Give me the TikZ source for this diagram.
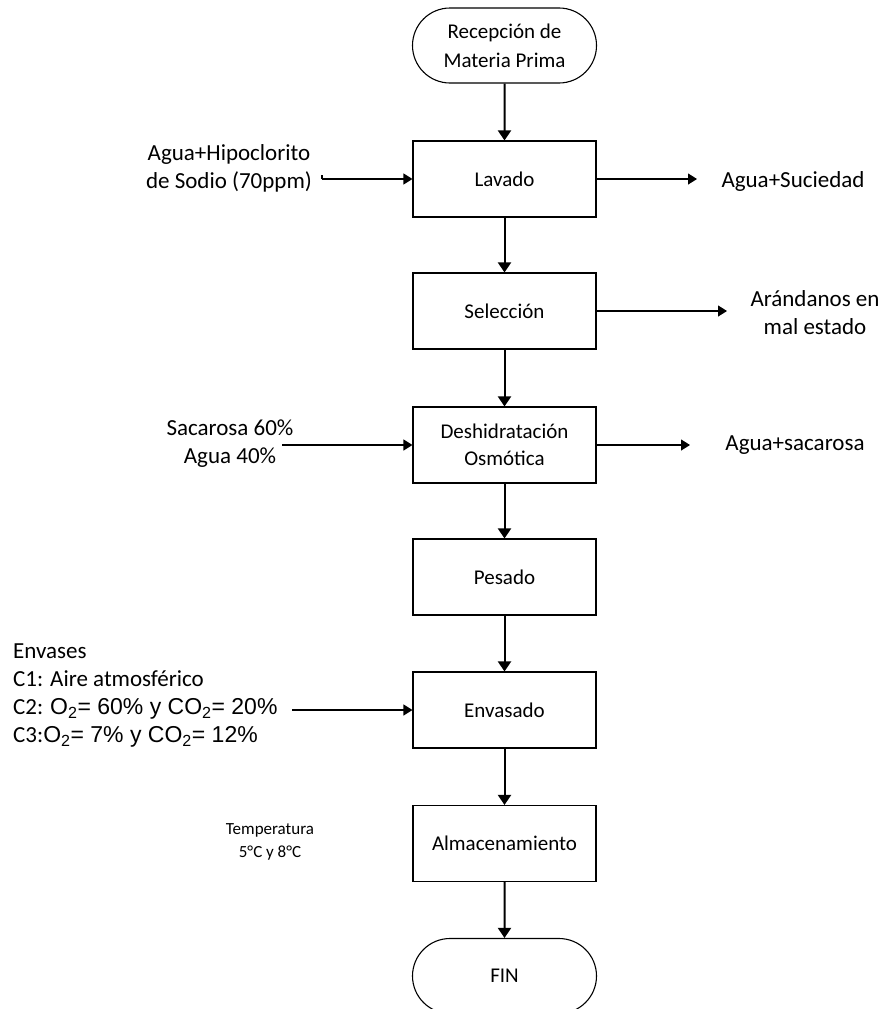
\documentclass[tikz,border=0pt]{standalone}
\usepackage{fontspec}
\setmainfont{Carlito}
\newfontfamily\arialf{Liberation Sans}
\usetikzlibrary{shapes.misc,arrows.meta}
\begin{document}
\begin{tikzpicture}[x=1pt,y=-1pt,
  procbox/.style={draw=black,line width=1.1pt,minimum width=183pt,minimum height=76pt,align=center,font=\fontsize{21}{27}\selectfont,inner sep=0pt},
  term/.style={draw=black,line width=1.1pt,rounded rectangle,minimum width=184pt,minimum height=75pt,align=center,font=\fontsize{21}{29}\selectfont,inner sep=0pt},
  sidetext/.style={align=center,font=\fontsize{23}{28}\selectfont,inner sep=0pt},
  smalltext/.style={align=center,font=\fontsize{17}{23}\selectfont,inner sep=0pt},
  flow/.style={line width=2pt,-{Triangle[width=13pt,length=10pt]}},
  side/.style={line width=1.2pt,-{Triangle[width=11pt,length=9pt]}}]
\path[use as bounding box, clip] (0,0) rectangle (885,1009);
\fill[white] (0,0) rectangle (885,1009);

\node[term] (rec) at (504.5,45.5) {Recepción de\\Materia Prima};
\node[procbox] (lav) at (504.5,179) {Lavado};
\node[procbox] (sel) at (504.5,311) {Selección};
\node[procbox] (des) at (504.5,445) {Deshidratación\\Osmótica};
\node[procbox] (pes) at (504.5,577) {Pesado};
\node[procbox] (env) at (504.5,710) {Envasado};
\node[procbox] (alm) at (504.5,843.5) {Almacenamiento};
\node[term] (fin) at (504.5,976) {FIN};

\draw[flow] (rec) -- (lav);
\draw[flow] (lav) -- (sel);
\draw[flow] (sel) -- (des);
\draw[flow] (des) -- (pes);
\draw[flow] (pes) -- (env);
\draw[flow] (env) -- (alm);
\draw[flow] (alm) -- (fin);

\node[sidetext] (t1) at (229,168.5) {Agua+Hipoclorito\\de Sodio (70ppm)};
\coordinate (i1) at (322,179);
\draw[line width=1.2pt] (i1) -- ++(0,-4);
\draw[side] (i1) -- (lav.west);

\coordinate (o1) at (697,179);
\draw[side] (lav.east) -- (o1);
\node[sidetext] (t2) at (793,181) {Agua+Suciedad};

\coordinate (o2) at (727,311);
\draw[side] (sel.east) -- (o2);
\node[sidetext] (t3) at (815,313) {Arándanos en\\mal estado};

\node[sidetext] (t4) at (230,444) {Sacarosa 60\%\\Agua 40\%};
\coordinate (i4) at (282,445);
\draw[side] (i4) -- (des.west);

\coordinate (o4) at (690,445);
\draw[side] (des.east) -- (o4);
\node[sidetext] (t5) at (795,445) {Agua+sacarosa};

\node[sidetext,align=left,anchor=west] (t6) at (13,695.5) {Envases\\C1: Aire atmosférico\\C2: {\arialf O\textsubscript{2}= 60\% y CO\textsubscript{2}= 20\%}\\C3:{\arialf O\textsubscript{2}= 7\% y CO\textsubscript{2}= 12\%}};
\coordinate (i6) at (292,710);
\draw[side] (i6) -- (env.west);

\node[smalltext] (t7) at (270,842) {Temperatura\\5°C y 8°C};
\end{tikzpicture}
\end{document}
